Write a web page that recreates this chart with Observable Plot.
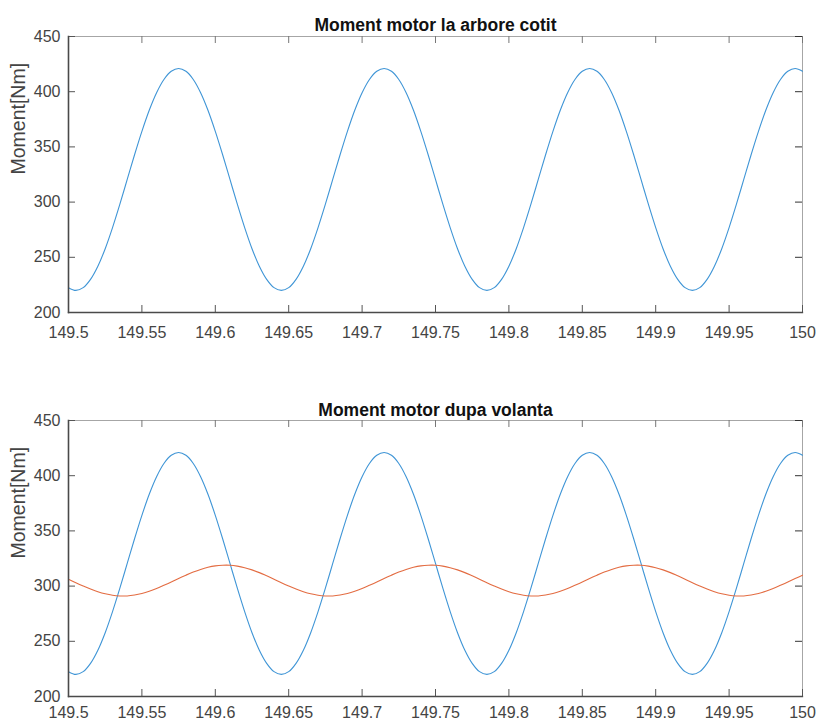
<!DOCTYPE html>
<html>
<head>
<meta charset="utf-8">
<script src="https://cdn.jsdelivr.net/npm/d3@7"></script>
<script src="https://cdn.jsdelivr.net/npm/@observablehq/plot@0.6"></script>
<style>
  html, body { margin: 0; padding: 0; background: #ffffff; }
  #chart svg { display: block; }
</style>
</head>
<body>
<div id="chart"></div>
<script>
// ---- Data ----
const titles = ["Moment motor la arbore cotit", "Moment motor dupa volanta"];
const yLabel = "Moment[Nm]";

const xTicks = [149.5, 149.55, 149.6, 149.65, 149.7, 149.75, 149.8, 149.85, 149.9, 149.95, 150];
const xTickLabels = ["149.5", "149.55", "149.6", "149.65", "149.7", "149.75", "149.8", "149.85", "149.9", "149.95", "150"];
const yTicks = [200, 250, 300, 350, 400, 450];

const time = [
  149.500, 149.505, 149.510, 149.515, 149.520, 149.525, 149.530, 149.535, 149.540, 149.545,
  149.550, 149.555, 149.560, 149.565, 149.570, 149.575, 149.580, 149.585, 149.590, 149.595,
  149.600, 149.605, 149.610, 149.615, 149.620, 149.625, 149.630, 149.635, 149.640, 149.645,
  149.650, 149.655, 149.660, 149.665, 149.670, 149.675, 149.680, 149.685, 149.690, 149.695,
  149.700, 149.705, 149.710, 149.715, 149.720, 149.725, 149.730, 149.735, 149.740, 149.745,
  149.750, 149.755, 149.760, 149.765, 149.770, 149.775, 149.780, 149.785, 149.790, 149.795,
  149.800, 149.805, 149.810, 149.815, 149.820, 149.825, 149.830, 149.835, 149.840, 149.845,
  149.850, 149.855, 149.860, 149.865, 149.870, 149.875, 149.880, 149.885, 149.890, 149.895,
  149.900, 149.905, 149.910, 149.915, 149.920, 149.925, 149.930, 149.935, 149.940, 149.945,
  149.950, 149.955, 149.960, 149.965, 149.970, 149.975, 149.980, 149.985, 149.990, 149.995,
  150.000
];

// Moment at the crankshaft (blue)
const momentCotit = [
  222.5, 220.0, 222.5, 230.0, 241.9, 257.8, 276.9, 298.1, 320.5, 342.9,
  364.1, 383.2, 399.1, 411.1, 418.5, 421.0, 418.5, 411.1, 399.1, 383.2,
  364.1, 342.9, 320.5, 298.1, 276.9, 257.8, 241.9, 230.0,
  222.5, 220.0, 222.5, 230.0, 241.9, 257.8, 276.9, 298.1, 320.5, 342.9,
  364.1, 383.2, 399.1, 411.1, 418.5, 421.0, 418.5, 411.1, 399.1, 383.2,
  364.1, 342.9, 320.5, 298.1, 276.9, 257.8, 241.9, 230.0,
  222.5, 220.0, 222.5, 230.0, 241.9, 257.8, 276.9, 298.1, 320.5, 342.9,
  364.1, 383.2, 399.1, 411.1, 418.5, 421.0, 418.5, 411.1, 399.1, 383.2,
  364.1, 342.9, 320.5, 298.1, 276.9, 257.8, 241.9, 230.0,
  222.5, 220.0, 222.5, 230.0, 241.9, 257.8, 276.9, 298.1, 320.5, 342.9,
  364.1, 383.2, 399.1, 411.1, 418.5, 421.0, 418.5
];

// Moment after the flywheel (orange)
const momentVolanta = [
  306.3, 303.1, 300.1, 297.3, 294.9, 293.0, 291.7, 291.1, 291.1, 291.9,
  293.3, 295.3, 297.8, 300.7, 303.7, 306.9, 309.9, 312.7, 315.1, 317.0,
  318.3, 318.9, 318.9, 318.1, 316.7, 314.7, 312.2, 309.3,
  306.3, 303.1, 300.1, 297.3, 294.9, 293.0, 291.7, 291.1, 291.1, 291.9,
  293.3, 295.3, 297.8, 300.7, 303.7, 306.9, 309.9, 312.7, 315.1, 317.0,
  318.3, 318.9, 318.9, 318.1, 316.7, 314.7, 312.2, 309.3,
  306.3, 303.1, 300.1, 297.3, 294.9, 293.0, 291.7, 291.1, 291.1, 291.9,
  293.3, 295.3, 297.8, 300.7, 303.7, 306.9, 309.9, 312.7, 315.1, 317.0,
  318.3, 318.9, 318.9, 318.1, 316.7, 314.7, 312.2, 309.3,
  306.3, 303.1, 300.1, 297.3, 294.9, 293.0, 291.7, 291.1, 291.1, 291.9,
  293.3, 295.3, 297.8, 300.7, 303.7, 306.9, 309.9
];

const colors = { blue: "#3f95d6", orange: "#e36c42" };

// ---- Build tables ----
const cotitRows = time.map((t, i) => ({ t, v: momentCotit[i] }));
const volantaRows = time.map((t, i) => ({ t, v: momentVolanta[i] }));

const FONT = "'Liberation Sans', Arial, Helvetica, sans-serif";
const W = 817, ML = 68, MR = 15, PLOT_H = 276, PLOT_W = W - ML - MR;
const TICK = 7;

function panel({ title, series, marginTop, marginBottom, tickPadding, titleDy }) {
  const height = marginTop + PLOT_H + marginBottom;
  const lineMarks = series.map(s =>
    Plot.line(s.rows, { x: "t", y: "v", stroke: s.color, strokeWidth: 1.1, curve: "catmull-rom" })
  );
  return Plot.plot({
    width: W,
    height,
    marginTop,
    marginBottom,
    marginLeft: ML,
    marginRight: MR,
    style: { fontFamily: FONT, fontSize: "16px", color: "#444", background: "#ffffff" },
    x: { domain: [149.5, 150] },
    y: { domain: [200, 450] },
    marks: [
      // box (MATLAB style)
      Plot.frame({ anchor: "top", stroke: "#a6a6a6" }),
      Plot.frame({ anchor: "right", stroke: "#a6a6a6" }),
      // inward ticks
      Plot.ruleX(xTicks, { x: d => d, insetTop: PLOT_H - TICK, stroke: "#555" }),
      Plot.ruleX(xTicks, { x: d => d, insetBottom: PLOT_H - TICK, stroke: "#777" }),
      Plot.ruleY(yTicks, { y: d => d, insetRight: PLOT_W - TICK, stroke: "#555" }),
      Plot.ruleY(yTicks, { y: d => d, insetLeft: PLOT_W - TICK, stroke: "#333" }),
      ...lineMarks,
      Plot.frame({ anchor: "left", stroke: "#4a4a4a", strokeWidth: 1.6 }),
      Plot.frame({ anchor: "bottom", stroke: "#4a4a4a", strokeWidth: 1.3 }),
      Plot.axisX({
        ticks: xTicks, tickSize: 0, tickPadding, label: null,
        tickFormat: d => xTickLabels[xTicks.indexOf(d)], fontSize: 16, fill: "#444"
      }),
      Plot.axisY({
        ticks: yTicks, tickSize: 0, tickPadding: 8, label: null, fontSize: 16, fill: "#444"
      }),
      Plot.text([title], {
        frameAnchor: "top", lineAnchor: "bottom", dy: titleDy,
        fontWeight: "bold", fontSize: 17.5, fill: "#111"
      }),
      Plot.text([yLabel], {
        frameAnchor: "left", rotate: -90, dx: -50, fontSize: 19.5, fill: "#444"
      })
    ]
  });
}

const chart = document.getElementById("chart");
chart.appendChild(panel({
  title: titles[0],
  series: [{ rows: cotitRows, color: colors.blue }],
  marginTop: 36, marginBottom: 51, tickPadding: 14, titleDy: -6
}));
chart.appendChild(panel({
  title: titles[1],
  series: [{ rows: cotitRows, color: colors.blue }, { rows: volantaRows, color: colors.orange }],
  marginTop: 57, marginBottom: 30, tickPadding: 10, titleDy: -5
}));
</script>
</body>
</html>
